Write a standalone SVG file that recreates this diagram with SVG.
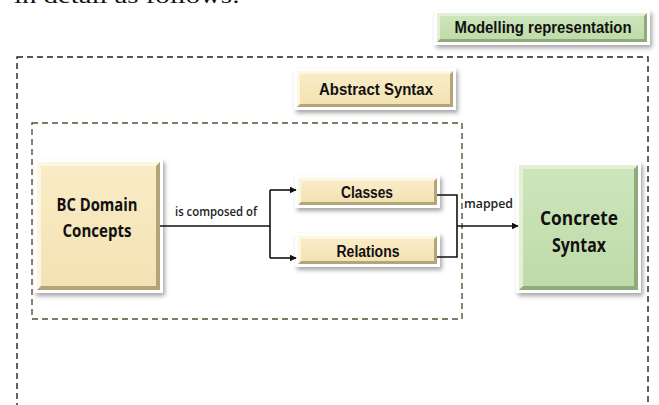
<svg xmlns="http://www.w3.org/2000/svg" width="659" height="405" viewBox="0 0 659 405">
  <defs>
    <filter id="shadow" x="-20%" y="-20%" width="140%" height="150%">
      <feDropShadow dx="2" dy="3" stdDeviation="2" flood-color="#000" flood-opacity="0.35"/>
    </filter>
    <marker id="arrow" viewBox="0 0 10 10" refX="9" refY="5" markerWidth="7" markerHeight="7" orient="auto" markerUnits="userSpaceOnUse">
      <path d="M0,0 L10,5 L0,10 z" fill="#111"/>
    </marker>
    <linearGradient id="beige" x1="0" y1="0" x2="0" y2="1">
      <stop offset="0" stop-color="#f9ecc6"/>
      <stop offset="1" stop-color="#f3e2b3"/>
    </linearGradient>
    <linearGradient id="green" x1="0" y1="0" x2="0" y2="1">
      <stop offset="0" stop-color="#cde5bb"/>
      <stop offset="1" stop-color="#bfdba9"/>
    </linearGradient>
  </defs>
  <style>
    .frame { fill: #fff; filter: url(#shadow); }
    .edge-b { fill: #b3a47a; }
    .edge-g { fill: #8faa7c; }
    .face-b { fill: url(#beige); }
    .face-g { fill: url(#green); }
    .lite-b { fill: #fdf6e0; }
    .lite-g { fill: #e2f0d6; }
    .narrow { font-family: "Liberation Sans Narrow", "Liberation Sans", Arial, sans-serif; font-weight: bold; fill: #111; text-anchor: middle; }
    .label { font-family: "Open Sans", "Liberation Sans", sans-serif; font-weight: bold; fill: #111; text-anchor: middle; }
    .small { font-family: "Open Sans", "Liberation Sans", sans-serif; font-weight: 600; fill: #222; font-size: 12px; }
    .wire { fill: none; stroke: #111; stroke-width: 1.6; }
    .dash-outer { fill: none; stroke: #222; stroke-width: 1.4; stroke-dasharray: 6 4; }
    .dash-inner { fill: none; stroke: #5b4d33; stroke-width: 1.4; stroke-dasharray: 6 4; }
  </style>

  <!-- running text above the figure -->
  <text x="14" y="3" font-family="Liberation Serif, serif" font-size="22" fill="#111" textLength="226" lengthAdjust="spacingAndGlyphs">in detail as follows:</text>

  <!-- containers -->
  <rect class="dash-outer" x="17" y="57" width="631" height="360"/>
  <rect class="dash-inner" x="32" y="123" width="430" height="196"/>

  <g id="modelling-representation">
    <rect class="frame" x="434" y="10" width="216" height="35"/>
    <rect class="edge-g" x="437" y="13" width="210" height="29"/>
    <polygon class="lite-g" points="437,13 647,13 644,16 440,16 440,39 437,42"/>
    <rect class="face-g" x="440" y="16" width="204" height="23"/>
    <text class="narrow" x="543" y="33" font-size="17" textLength="177" lengthAdjust="spacingAndGlyphs">Modelling representation</text>
  </g>

  <g id="abstract-syntax">
    <rect class="frame" x="294" y="68" width="162" height="42"/>
    <rect class="edge-b" x="297" y="71" width="156" height="36"/>
    <polygon class="lite-b" points="297,71 453,71 450,74 300,74 300,104 297,107"/>
    <rect class="face-b" x="300" y="74" width="150" height="30"/>
    <text class="narrow" x="376" y="95" font-size="17" textLength="114" lengthAdjust="spacingAndGlyphs">Abstract Syntax</text>
  </g>

  <g id="bc-domain-concepts">
    <rect class="frame" x="34" y="159" width="129" height="134"/>
    <rect class="edge-b" x="37" y="162" width="123" height="128"/>
    <polygon class="lite-b" points="37,162 160,162 156,166 41,166 41,286 37,290"/>
    <rect class="face-b" x="41" y="166" width="115" height="120"/>
    <text class="label" x="97" y="211" font-size="17" textLength="81" lengthAdjust="spacingAndGlyphs">BC Domain</text>
    <text class="label" x="97" y="237" font-size="17" textLength="69" lengthAdjust="spacingAndGlyphs">Concepts</text>
  </g>

  <g id="classes">
    <rect class="frame" x="295" y="175" width="145" height="33"/>
    <rect class="edge-b" x="298" y="178" width="139" height="27"/>
    <polygon class="lite-b" points="298,178 437,178 434,181 301,181 301,202 298,205"/>
    <rect class="face-b" x="301" y="181" width="133" height="21"/>
    <text class="narrow" x="367" y="198" font-size="16" textLength="52" lengthAdjust="spacingAndGlyphs">Classes</text>
  </g>

  <g id="relations">
    <rect class="frame" x="295" y="233" width="145" height="34"/>
    <rect class="edge-b" x="298" y="236" width="139" height="28"/>
    <polygon class="lite-b" points="298,236 437,236 434,239 301,239 301,261 298,264"/>
    <rect class="face-b" x="301" y="239" width="133" height="22"/>
    <text class="narrow" x="368" y="257" font-size="16" textLength="63" lengthAdjust="spacingAndGlyphs">Relations</text>
  </g>

  <g id="concrete-syntax">
    <rect class="frame" x="516" y="162" width="125" height="131"/>
    <rect class="edge-g" x="519" y="165" width="119" height="125"/>
    <polygon class="lite-g" points="519,165 638,165 634,169 523,169 523,286 519,290"/>
    <rect class="face-g" x="523" y="169" width="111" height="117"/>
    <text class="label" x="579" y="225" font-size="19" textLength="78" lengthAdjust="spacingAndGlyphs">Concrete</text>
    <text class="label" x="579" y="252" font-size="19" textLength="54" lengthAdjust="spacingAndGlyphs">Syntax</text>
  </g>

  <g id="connectors">
    <path class="wire" d="M160,226 H270"/>
    <path class="wire" d="M270,190 V258"/>
    <path class="wire" d="M270,190 H296" marker-end="url(#arrow)"/>
    <path class="wire" d="M270,258 H296" marker-end="url(#arrow)"/>
    <path class="wire" d="M437,195 H457 V257 H437"/>
    <path class="wire" d="M457,226 H518" marker-end="url(#arrow)"/>
    <text class="small" x="175" y="216" textLength="82" lengthAdjust="spacingAndGlyphs">is composed of</text>
    <text class="small" x="464" y="208" textLength="49" lengthAdjust="spacingAndGlyphs">mapped</text>
  </g>
</svg>
